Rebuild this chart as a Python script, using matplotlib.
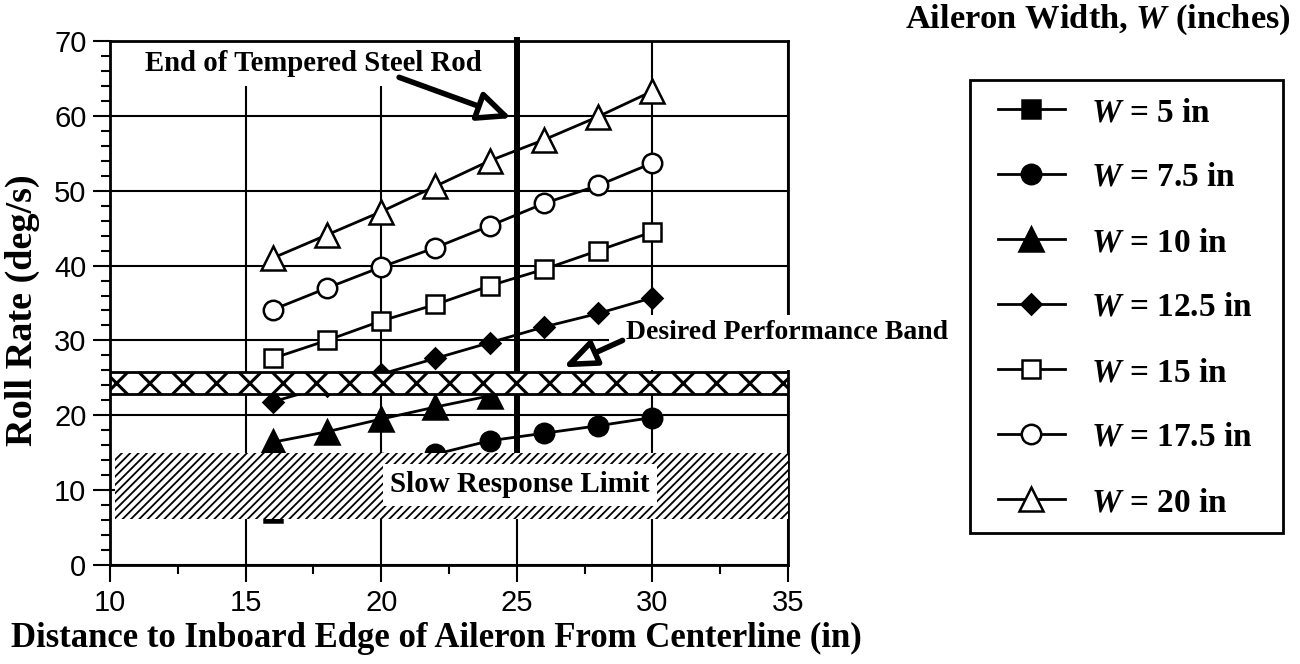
import matplotlib
matplotlib.use("Agg")
import matplotlib.pyplot as plt
from matplotlib.patches import Rectangle
from matplotlib.ticker import MultipleLocator

# roll rate vs. inboard edge distance for each aileron width
dist = [16, 18, 20, 22, 24, 26, 28, 30]
w5 = [6.9, 7.6, 8.4, 9.2, 10.0, 10.8, 11.6, 12.4]
w7_5 = [11.2, 12.4, 13.6, 14.8, 16.6, 17.6, 18.6, 19.7]
w10 = [16.4, 17.8, 19.5, 21.1, 22.6]
w12_5 = [21.8, 23.9, 25.5, 27.6, 29.7, 31.8, 33.6, 35.7]
w15 = [27.6, 30.0, 32.6, 34.8, 37.3, 39.5, 42.0, 44.5]
w17_5 = [34.1, 37.0, 39.8, 42.4, 45.3, 48.3, 50.7, 53.7]
w20 = [41.0, 44.1, 47.2, 50.6, 54.0, 56.8, 59.9, 63.3]

labels = ["5", "7.5", "10", "12.5", "15", "17.5", "20"]

desired_band = (22.8, 25.8)   # deg/s
slow_limit = (6.1, 15.0)      # deg/s
rod_end = 25                  # in

SERIF = "Liberation Serif"
SANS = "Liberation Sans"
plt.rcParams["font.family"] = SANS
plt.rcParams["mathtext.fontset"] = "custom"
plt.rcParams["mathtext.it"] = SERIF + ":bold:italic"
plt.rcParams["mathtext.rm"] = SERIF + ":bold"

fig = plt.figure(figsize=(13, 6.64), dpi=100)
ax = fig.add_axes([110 / 1300, 1 - 565 / 664, 678 / 1300, 524 / 664])
ax.set_xlim(10, 35)
ax.set_ylim(0, 70)

ax.xaxis.set_major_locator(MultipleLocator(5))
ax.xaxis.set_minor_locator(MultipleLocator(2.5))
ax.yaxis.set_major_locator(MultipleLocator(10))
ax.yaxis.set_minor_locator(MultipleLocator(2))
ax.tick_params(which="major", direction="out", length=12, width=1.5,
               labelsize=21, pad=5)
ax.tick_params(which="minor", direction="out", length=6.5, width=1.5)
for sp in ax.spines.values():
    sp.set_linewidth(2)

ax.set_axisbelow(True)
ax.grid(True, which="major", color="black", linewidth=1.5)

line_kw = dict(color="black", linewidth=2, markeredgecolor="black",
               markeredgewidth=1.8, zorder=2)
handles = []
handles += ax.plot(dist, w5, marker="s", ms=13, mfc="black", **line_kw)
handles += ax.plot(dist, w7_5, marker="o", ms=14, mfc="black", **line_kw)
handles += ax.plot(dist[:len(w10)], w10, marker="^", ms=17, mfc="black", **line_kw)
handles += ax.plot(dist, w12_5, marker="D", ms=10, mfc="black", **line_kw)
handles += ax.plot(dist, w15, marker="s", ms=13, mfc="white", **line_kw)
handles += ax.plot(dist, w17_5, marker="o", ms=14, mfc="white", **line_kw)
handles += ax.plot(dist, w20, marker="^", ms=17, mfc="white", **line_kw)

# end of the tempered steel rod
ax.plot([rod_end, rod_end], [slow_limit[1], 70.6], color="black",
        linewidth=4.3, zorder=2.6, clip_on=False, solid_capstyle="butt")

# hatched bands
with plt.rc_context({"hatch.linewidth": 2.2}):
    band = Rectangle((10, desired_band[0]), 25, desired_band[1] - desired_band[0],
                     facecolor="white", edgecolor="black", linewidth=2,
                     hatch="x", zorder=4)
ax.add_patch(band)
with plt.rc_context({"hatch.linewidth": 1.3}):
    slow = Rectangle((10.2, slow_limit[0]), 24.8, slow_limit[1] - slow_limit[0],
                     facecolor="white", edgecolor="black", linewidth=0,
                     hatch="////", zorder=4)
ax.add_patch(slow)

# annotations
note = dict(fontfamily=SERIF, fontweight="bold", ha="center", va="center")
ax.text(17.5, 67.0, "End of Tempered Steel Rod", fontsize=20.7, zorder=2.2,
        bbox=dict(boxstyle="square,pad=0.33", fc="white", ec="none"), **note)
ax.annotate("", xy=(24.8, 59.7), xytext=(20.66, 65.15), zorder=7,
            arrowprops=dict(arrowstyle="-|>,head_length=1.0,head_width=0.45",
                            lw=4, fc="white", ec="black", shrinkA=0, shrinkB=0,
                            mutation_scale=20))

ax.add_patch(Rectangle((28.4, 26.0), 13, 7.4, facecolor="white",
                       edgecolor="none", clip_on=False, zorder=5))
ax.text(34.96, 31.1, "Desired Performance Band", fontsize=20, zorder=6,
        clip_on=False, **note)
ax.annotate("", xy=(26.7, 26.4), xytext=(28.9, 30.0), zorder=7,
            arrowprops=dict(arrowstyle="-|>,head_length=1.0,head_width=0.4",
                            lw=4, fc="white", ec="black", shrinkA=0, shrinkB=0,
                            mutation_scale=20))

ax.text(25.1, 10.7, "Slow Response Limit", fontsize=20.9, zorder=6,
        bbox=dict(boxstyle="square,pad=0.25", fc="white", ec="none"), **note)

# axis titles
fig.text(436 / 1300, 1 - 638 / 664,
         "Distance to Inboard Edge of Aileron From Centerline (in)",
         fontfamily=SERIF, fontweight="bold", fontsize=25,
         ha="center", va="center")
fig.text(22 / 1300, 1 - 310 / 664, "Roll Rate (deg/s)", fontfamily=SERIF,
         fontweight="bold", fontsize=27.5, rotation=90, ha="center", va="center")

# legend
fig.text(1098 / 1300, 1 - 20 / 664, "Aileron Width, $W$ (inches)",
         fontfamily=SERIF, fontweight="bold", fontsize=24.8,
         ha="center", va="center")
fig.patches.append(Rectangle((970 / 1300, 1 - 533 / 664), 313 / 1300, 453 / 664,
                             transform=fig.transFigure, fill=False,
                             edgecolor="black", linewidth=2))
leg = ax.legend(handles, ["$W$ = %s in" % s for s in labels],
                loc="upper left", bbox_to_anchor=(998 / 1300, 1 - 97 / 664),
                bbox_transform=fig.transFigure, frameon=False,
                borderpad=0, borderaxespad=0, handlelength=2.0,
                handletextpad=0.8, labelspacing=1.02,
                prop=dict(family=SERIF, weight="bold", size=24))

fig.savefig("out.png", dpi=100)
